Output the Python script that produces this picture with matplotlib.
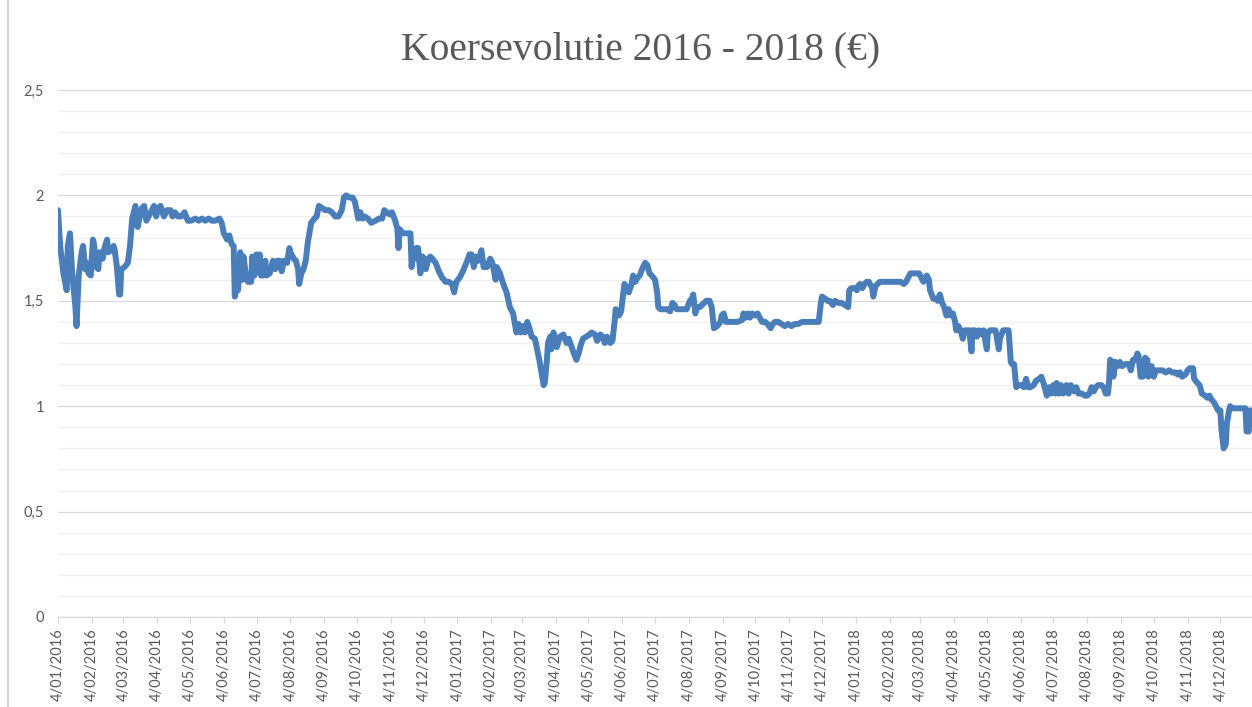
import numpy as np
import pandas as pd
import matplotlib.pyplot as plt
from matplotlib.lines import Line2D

# days since 4/01/2016 and closing price (EUR)
start = pd.Timestamp("2016-01-04")

day_offset = [
    0, 2, 5, 8, 9, 11, 13, 16, 17, 19,
    22, 23, 25, 26, 28, 30, 32, 33, 35, 37,
    38, 41, 42, 45, 46, 49, 51, 52, 54, 56,
    57, 58, 61, 64, 66, 68, 70, 71, 73, 75,
    77, 79, 81, 83, 86, 88, 90, 92, 94, 97,
    100, 103, 105, 107, 110, 113, 116, 119, 122, 126,
    129, 132, 135, 138, 141, 144, 148, 150,
    152, 155, 157, 159, 161, 162, 164, 165, 167, 169,
    170, 172, 174, 177, 178, 180, 182, 184, 185, 186,
    188, 190, 191, 194, 197, 199, 201, 203, 205, 207,
    210, 212, 213, 216, 218, 220, 221, 223, 225, 227,
    229, 230, 232, 235, 237, 239, 242, 245, 248, 251,
    254, 257, 260, 262, 264, 267, 270, 272, 274, 275,
    277, 279, 281, 284, 287, 291, 294, 297, 299, 301,
    304,
    306, 309, 311, 312, 313, 316, 320, 323, 324, 326,
    328, 329, 330, 332, 334, 336, 337, 339, 341, 343,
    346, 349, 352, 355, 358, 361, 363, 365, 368, 371,
    375, 377, 379, 381, 383, 385, 388, 390, 393, 396,
    398, 401, 402, 405, 408, 411, 414, 417, 419, 420,
    422, 424, 426, 428, 430, 432, 434, 437, 439, 441,
    443, 445, 446, 448, 449, 451, 452, 454, 455,
    457, 460, 463, 466, 468, 470, 472, 475, 477, 479,
    481, 484, 487, 489, 492, 494, 497, 499, 501, 503,
    506, 508, 510, 511, 514, 516, 518, 519, 521, 523,
    525, 527, 529, 531, 533, 536, 538, 540, 542, 544,
    547, 549, 550, 552, 555, 558, 561, 563, 565, 567,
    570, 573, 576, 579, 581, 582, 584, 585, 588, 590,
    592, 594, 597, 599, 601, 604, 607,
    608, 610, 612, 614, 617, 620, 623, 627, 628, 630,
    632, 634, 636, 639, 641, 643, 645, 648, 650, 653,
    655, 657, 660, 663, 666, 669, 672, 675, 678, 682,
    685, 688, 691, 695, 697, 699, 700, 703, 705, 707,
    710, 712, 715, 718, 721, 724, 725, 727, 730, 732,
    733, 735, 737, 739, 741, 743, 746, 747, 749, 751,
    753, 756,
    758, 763, 766, 769, 772, 775, 777, 779, 781, 784,
    786, 789, 791, 793, 796, 798, 799, 802, 804, 806,
    808, 810, 812, 814, 816, 818, 820, 822, 823, 825,
    827, 829, 831, 833, 835, 837, 838, 840, 842, 844,
    847, 848, 851, 852, 854, 857, 859, 860, 862, 863,
    866, 868, 871, 873, 874, 876, 878, 880, 883, 885,
    887, 889, 891, 894, 896, 899, 901, 903,
    906, 908, 910, 912, 914, 915, 917, 919, 921, 924,
    926, 928, 931, 933, 935, 938, 941, 943, 945, 947,
    949, 951, 953, 956, 958, 960, 962, 963, 964, 966,
    967, 969, 971, 973, 975, 978, 981, 983, 985, 987,
    989, 990, 992, 994, 996, 998, 999, 1002, 1004, 1006,
    1008, 1012, 1015, 1018, 1021, 1024, 1026, 1028, 1030, 1033,
    1035, 1037, 1040, 1041, 1044, 1046, 1048, 1051, 1053, 1055,
    1057, 1059, 1061, 1063, 1065, 1066, 1068, 1070, 1071, 1073,
    1074, 1076, 1079, 1082, 1085, 1088, 1089, 1091, 1092, 1093,
]

price = [
    1.93, 1.76, 1.63, 1.55, 1.76, 1.82, 1.63, 1.47, 1.38, 1.62,
    1.74, 1.76, 1.65, 1.68, 1.63, 1.62, 1.79, 1.77, 1.66, 1.65,
    1.73, 1.70, 1.74, 1.79, 1.73, 1.74, 1.76, 1.74, 1.66, 1.53,
    1.53, 1.65, 1.66, 1.68, 1.76, 1.89, 1.93, 1.95, 1.85, 1.90,
    1.94, 1.95, 1.88, 1.90, 1.93, 1.95, 1.90, 1.94, 1.95, 1.90,
    1.93, 1.93, 1.90, 1.92, 1.90, 1.90, 1.92, 1.88, 1.88, 1.89,
    1.88, 1.89, 1.88, 1.89, 1.88, 1.88, 1.89, 1.87,
    1.82, 1.79, 1.81, 1.77, 1.76, 1.52, 1.57, 1.55, 1.73, 1.60,
    1.71, 1.63, 1.59, 1.59, 1.71, 1.62, 1.72, 1.70, 1.72, 1.62,
    1.62, 1.69, 1.62, 1.63, 1.69, 1.65, 1.69, 1.69, 1.64, 1.69,
    1.68, 1.75, 1.73, 1.70, 1.69, 1.65, 1.58, 1.63, 1.65, 1.69,
    1.78, 1.81, 1.87, 1.89, 1.90, 1.95, 1.94, 1.93, 1.93, 1.92,
    1.90, 1.90, 1.93, 1.99, 2.00, 1.99, 1.99, 1.97, 1.92, 1.89,
    1.92, 1.89, 1.90, 1.89, 1.87, 1.88, 1.89, 1.89, 1.93, 1.92,
    1.91,
    1.92, 1.88, 1.84, 1.75, 1.84, 1.82, 1.82, 1.82, 1.66, 1.74,
    1.75, 1.70, 1.75, 1.63, 1.71, 1.70, 1.65, 1.69, 1.71, 1.70,
    1.68, 1.64, 1.61, 1.59, 1.59, 1.58, 1.54, 1.59, 1.61, 1.64,
    1.69, 1.72, 1.72, 1.66, 1.71, 1.69, 1.74, 1.66, 1.66, 1.70,
    1.68, 1.60, 1.66, 1.63, 1.58, 1.54, 1.47, 1.44, 1.38, 1.35,
    1.39, 1.35, 1.38, 1.35, 1.40, 1.37, 1.33, 1.32, 1.27, 1.22,
    1.16, 1.10, 1.11, 1.22, 1.30, 1.33, 1.27, 1.35, 1.33,
    1.28, 1.33, 1.34, 1.30, 1.32, 1.29, 1.26, 1.22, 1.25, 1.29,
    1.32, 1.33, 1.34, 1.35, 1.34, 1.31, 1.34, 1.33, 1.30, 1.33,
    1.30, 1.31, 1.40, 1.46, 1.43, 1.45, 1.54, 1.58, 1.56, 1.54,
    1.57, 1.62, 1.59, 1.61, 1.62, 1.66, 1.68, 1.67, 1.63, 1.62,
    1.60, 1.54, 1.47, 1.46, 1.46, 1.46, 1.45, 1.49, 1.48, 1.46,
    1.46, 1.46, 1.46, 1.50, 1.51, 1.53, 1.44, 1.47, 1.47, 1.48,
    1.49, 1.50, 1.50, 1.47, 1.37, 1.38, 1.40,
    1.43, 1.44, 1.40, 1.40, 1.40, 1.40, 1.40, 1.41, 1.44, 1.42,
    1.44, 1.42, 1.44, 1.43, 1.44, 1.42, 1.40, 1.40, 1.39, 1.37,
    1.39, 1.40, 1.40, 1.39, 1.38, 1.39, 1.38, 1.39, 1.39, 1.40,
    1.40, 1.40, 1.40, 1.40, 1.40, 1.49, 1.52, 1.51, 1.50, 1.50,
    1.48, 1.50, 1.49, 1.49, 1.48, 1.47, 1.55, 1.56, 1.56, 1.55,
    1.57, 1.58, 1.56, 1.58, 1.59, 1.59, 1.56, 1.52, 1.57, 1.58,
    1.59, 1.59,
    1.59, 1.59, 1.59, 1.59, 1.59, 1.58, 1.59, 1.61, 1.63, 1.63,
    1.63, 1.63, 1.61, 1.59, 1.62, 1.60, 1.55, 1.51, 1.51, 1.50,
    1.53, 1.49, 1.47, 1.43, 1.46, 1.43, 1.44, 1.40, 1.36, 1.38,
    1.36, 1.32, 1.36, 1.36, 1.36, 1.26, 1.36, 1.36, 1.33, 1.36,
    1.34, 1.36, 1.27, 1.35, 1.36, 1.36, 1.36, 1.33, 1.27, 1.32,
    1.36, 1.36, 1.36, 1.21, 1.20, 1.20, 1.09, 1.10, 1.10, 1.09,
    1.13, 1.09, 1.09, 1.10, 1.12, 1.13, 1.14, 1.11,
    1.05, 1.09, 1.06, 1.10, 1.06, 1.11, 1.06, 1.10, 1.06, 1.10,
    1.06, 1.10, 1.07, 1.09, 1.06, 1.06, 1.05, 1.05, 1.06, 1.09,
    1.07, 1.09, 1.10, 1.10, 1.09, 1.06, 1.06, 1.11, 1.22, 1.21,
    1.14, 1.21, 1.19, 1.21, 1.19, 1.20, 1.20, 1.17, 1.22, 1.22,
    1.25, 1.24, 1.14, 1.14, 1.23, 1.22, 1.14, 1.19, 1.14, 1.17,
    1.17, 1.17, 1.16, 1.17, 1.16, 1.16, 1.15, 1.16, 1.14, 1.15,
    1.17, 1.18, 1.18, 1.13, 1.11, 1.10, 1.06, 1.05, 1.04, 1.05,
    1.03, 1.02, 1.00, 0.98, 0.98, 0.89, 0.80, 0.82, 0.92, 0.98,
    1.00, 0.99, 0.99, 0.99, 0.99, 0.99, 0.88, 0.88, 0.98, 0.98,
]

y_ticks = [0, 0.5, 1, 1.5, 2, 2.5]
y_labels = ["0", "0,5", "1", "1,5", "2", "2,5"]

dates = start + pd.to_timedelta(day_offset, unit="D")
month_ticks = pd.date_range("2016-01-04", "2018-12-04", freq=pd.DateOffset(months=1))
month_labels = [f"{d.day}/{d.month:02d}/{d.year}" for d in month_ticks]

grey_text = "#595959"

fig = plt.figure(figsize=(12.52, 7.07), dpi=100)
ax = fig.add_axes([0.0463, 0.1273, 0.9537, 0.7454])

ax.plot(dates, price, color="#4a7ebb", lw=4.3, solid_joinstyle="round", solid_capstyle="round")

ax.set_ylim(0, 2.5)
ax.set_xlim(start, start + pd.Timedelta(days=1094))

ax.set_yticks(y_ticks)
ax.set_yticklabels(y_labels)
ax.set_yticks(np.arange(0, 2.51, 0.1), minor=True)
ax.grid(axis="y", which="minor", color="#efefef", lw=0.9)
ax.grid(axis="y", which="major", color="#d9d9d9", lw=0.9)
ax.set_axisbelow(True)

ax.set_xticks(month_ticks)
ax.set_xticklabels(month_labels, rotation=90)

for side in ["top", "right", "left"]:
    ax.spines[side].set_visible(False)
ax.spines["bottom"].set_color("#d9d9d9")
ax.spines["bottom"].set_linewidth(0.9)

ax.tick_params(axis="y", which="both", length=0, pad=10, labelsize=10.5, labelcolor=grey_text)
ax.tick_params(axis="x", length=4, color="#d9d9d9", width=0.9, pad=4, labelsize=10.5, labelcolor=grey_text)
for lab in ax.get_xticklabels() + ax.get_yticklabels():
    lab.set_fontfamily("Lato")

fig.text(0.512, 0.930, "Koersevolutie 2016 - 2018 (\u20ac)", ha="center", va="center",
         fontsize=28.5, color=grey_text, family="Liberation Serif")

# sheet border on the left
fig.add_artist(Line2D([8 / 1252, 8 / 1252], [0, 1], color="#d4d4d4", lw=1.5, transform=fig.transFigure))

fig.savefig("out.png", dpi=100)
